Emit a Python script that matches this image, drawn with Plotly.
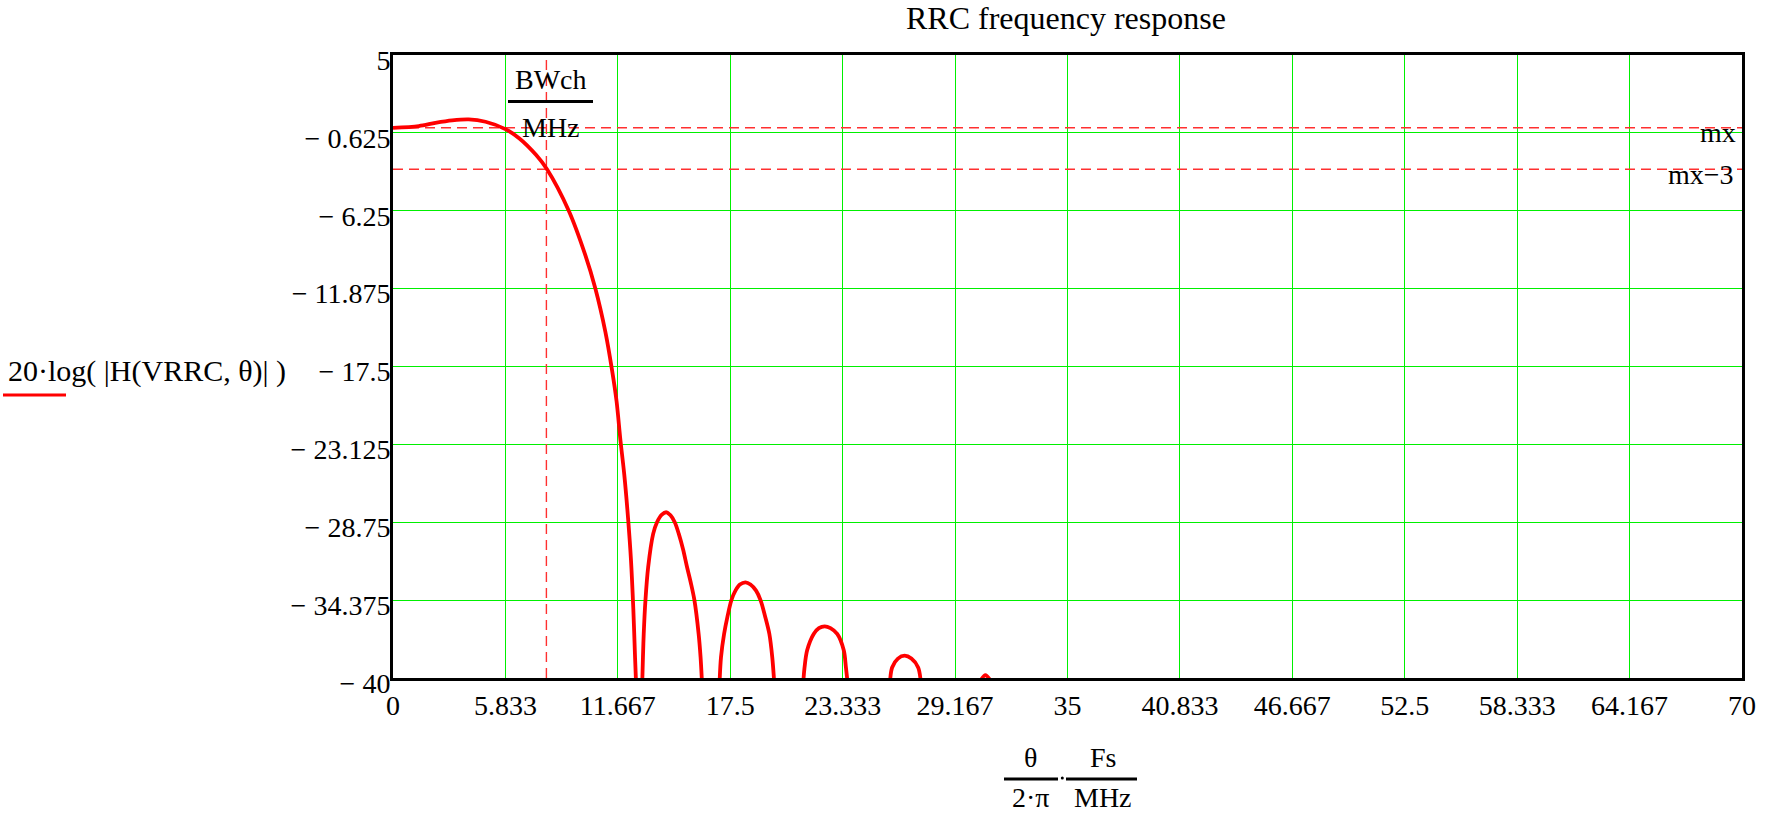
import plotly.graph_objects as go

# ---------------- data ----------------
x_tick_vals = [0, 5.833, 11.667, 17.5, 23.333, 29.167, 35, 40.833, 46.667, 52.5, 58.333, 64.167, 70]
x_tick_text = ["0", "5.833", "11.667", "17.5", "23.333", "29.167", "35",
               "40.833", "46.667", "52.5", "58.333", "64.167", "70"]
y_tick_vals = [5, -0.625, -6.25, -11.875, -17.5, -23.125, -28.75, -34.375, -40]
y_tick_text = ["5", "\u2212 0.625", "\u2212 6.25", "\u2212 11.875", "\u2212 17.5",
               "\u2212 23.125", "\u2212 28.75", "\u2212 34.375", "\u2212 40"]

# main lobe (MHz, dB)
main_freq = [0, 1.34, 2.2, 3.07, 3.93, 4.8, 5.83, 6.56, 7.43, 8.0, 9.12, 9.98,
             10.5, 11.02, 11.37, 11.6, 11.8, 12.0, 12.2, 12.35, 12.47, 12.56, 12.63]
main_db = [-0.26, -0.13, 0.1, 0.28, 0.35, 0.18, -0.35, -1.03, -2.23, -3.27, -6.25, -9.46,
           -11.87, -15.0, -17.8, -20.0, -22.8, -25.3, -28.5, -31.5, -35.0, -38.5, -41.0]
# side lobes
lobe1_freq = [12.93, 12.97, 13.01, 13.1, 13.24, 13.5, 13.7, 13.95, 14.19, 14.4, 14.62,
              14.83, 15.05, 15.26, 15.45, 15.64, 15.86, 15.96, 16.04]
lobe1_db = [-40.5, -38.5, -36.82, -34.375, -32.0, -29.59, -28.75, -28.2, -28.03, -28.25, -28.75,
            -29.59, -30.7, -32.0, -33.1, -34.375, -36.82, -38.5, -40.5]
lobe2_freq = [16.94, 17.02, 17.18, 17.35, 17.56, 17.77, 18.0, 18.29, 18.55, 18.84, 19.07,
              19.3, 19.53, 19.68, 19.79]
lobe2_db = [-40.5, -38.5, -36.82, -35.6, -34.375, -33.69, -33.25, -33.09, -33.25, -33.69, -34.375,
            -35.5, -36.82, -38.5, -40.5]
lobe3_freq = [21.28, 21.35, 21.49, 21.83, 22.1, 22.4, 22.7, 23.05, 23.39, 23.5, 23.6]
lobe3_db = [-40.5, -39.3, -38.0, -36.82, -36.4, -36.27, -36.4, -36.82, -38.0, -39.2, -40.5]
lobe4_freq = [25.78, 25.9, 26.2, 26.55, 26.9, 27.25, 27.4]
lobe4_db = [-40.5, -39.24, -38.6, -38.39, -38.6, -39.24, -40.5]
lobe5_freq = [30.4, 30.74, 31.1]
lobe5_db = [-40.4, -39.8, -40.4]

mx_db = -0.25          # mx
bwch_mhz = 7.96        # BWch / MHz
x_range = [0, 70]
y_range = [-40, 5]

# ---------------- geometry ----------------
W, H = 1778, 815
L, R, T, B = 393, 1742, 55, 678
PW, PH = R - L, B - T


def px(xp):
    return (xp - L) / PW


def py(yp):
    return (B - yp) / PH


FONT = "Liberation Serif"

# ---------------- figure ----------------
fig = go.Figure()

# reference dashed lines
dash_style = dict(color="#ff3030", width=1.4, dash="10px,6px")
fig.add_trace(go.Scatter(x=x_range, y=[mx_db, mx_db], mode="lines", line=dash_style,
                         hoverinfo="skip"))
fig.add_trace(go.Scatter(x=x_range, y=[mx_db - 3, mx_db - 3], mode="lines", line=dash_style,
                         hoverinfo="skip"))
fig.add_trace(go.Scatter(x=[bwch_mhz, bwch_mhz], y=y_range, mode="lines", line=dash_style,
                         hoverinfo="skip"))

# response curve
segments = [(main_freq, main_db), (lobe1_freq, lobe1_db), (lobe2_freq, lobe2_db),
            (lobe3_freq, lobe3_db), (lobe4_freq, lobe4_db), (lobe5_freq, lobe5_db)]
cx, cy = [], []
for fx, fy in segments:
    if cx:
        cx.append(None)
        cy.append(None)
    cx.extend(fx)
    cy.extend(fy)
fig.add_trace(go.Scatter(x=cx, y=cy, mode="lines", connectgaps=False,
                         line=dict(color="#ff0000", width=3.8, shape="spline", smoothing=0.9),
                         name="20·log(|H(VRRC, θ)|)"))

axis_common = dict(showgrid=True, gridcolor="#00f000", gridwidth=1.4,
                   showline=True, linecolor="black", linewidth=3, mirror=True,
                   zeroline=False,
                   tickfont=dict(family=FONT, size=28, color="black"))

fig.update_xaxes(range=x_range, tickmode="array", tickvals=x_tick_vals, ticktext=x_tick_text,
                 ticks="", **axis_common)
fig.update_yaxes(range=y_range, tickmode="array", tickvals=y_tick_vals, ticktext=y_tick_text,
                 ticks="", ticklabelshift=5, ticklabelstandoff=-6, **axis_common)

ann = []


def text(t, xp, yp, size=28, xanchor="center", yanchor="middle"):
    ann.append(dict(text=t, x=px(xp), y=py(yp), xref="paper", yref="paper",
                    xanchor=xanchor, yanchor=yanchor, showarrow=False,
                    font=dict(family=FONT, size=size, color="black")))


text("RRC frequency response", 1066, 18, size=32)
text("20·log( |H(VRRC, θ)| )", 6, 371, size=30, xanchor="left")
text("mx", 1738, 133, xanchor="right")
text("mx\u22123", 1736, 174, xanchor="right")
text("BWch", 551, 79)
text("MHz", 551, 127)
text("θ", 1030, 757)
text("Fs", 1103, 757)
text("2·π", 1030, 815, yanchor="bottom")
text("MHz", 1103, 815, yanchor="bottom")

shapes = []


def hline(x0, x1, y, color="black", w=3):
    shapes.append(dict(type="line", xref="paper", yref="paper",
                       x0=px(x0), x1=px(x1), y0=py(y), y1=py(y),
                       line=dict(color=color, width=w)))


hline(508, 593, 101.5)           # BWch / MHz bar
hline(1004, 1058, 779)           # θ / 2π bar
hline(1066, 1137, 779)           # Fs / MHz bar
hline(3, 66, 395, color="#ff0000", w=3)   # legend sample line
shapes.append(dict(type="circle", xref="paper", yref="paper",
                   x0=px(1060.8), x1=px(1063.8), y0=py(776.5), y1=py(779.5),
                   fillcolor="black", line=dict(width=0)))

fig.update_layout(width=W, height=H, margin=dict(l=L, r=W - R, t=T, b=H - B, pad=0),
                  plot_bgcolor="white", paper_bgcolor="white", showlegend=False,
                  annotations=ann, shapes=shapes)

fig.write_html("out.html", config={"displayModeBar": False},
               post_script="document.body.style.margin='0';document.body.style.overflow='hidden';")
